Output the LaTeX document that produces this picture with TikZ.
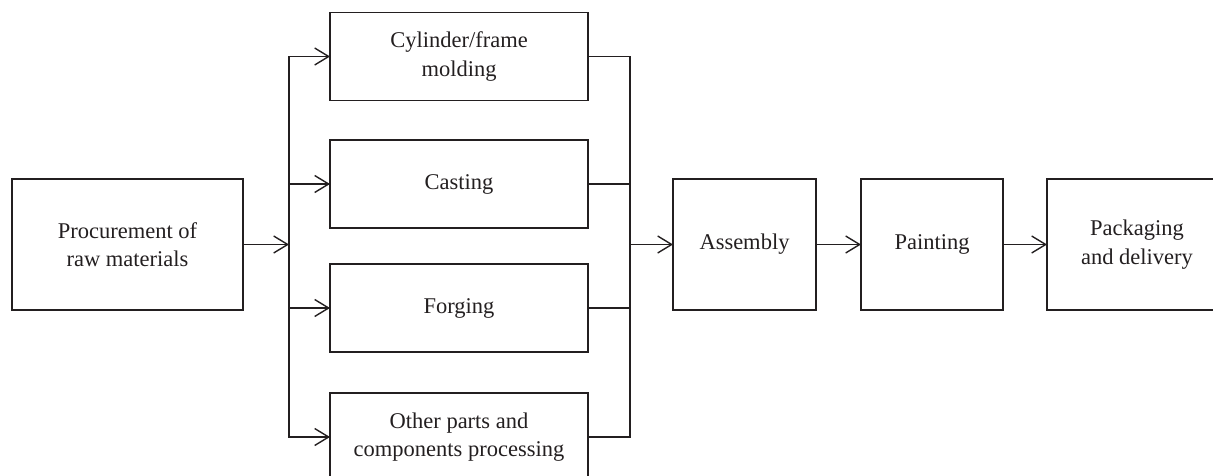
\documentclass[tikz,border=0pt]{standalone}
\usepackage{fontspec}
\setmainfont{Liberation Serif}
\usetikzlibrary{arrows.meta}
\definecolor{procink}{HTML}{231F20}
\tikzset{
  blk/.style={draw=procink, line width=1.9pt, align=center, inner sep=0pt, outer sep=0pt, text=procink},
  arr/.style={-{Straight Barb[length=14pt,width=17pt,line width=1.4pt]}, line width=1.4pt, color=procink},
  lnk/.style={line width=1.4pt, color=procink},
}

\begin{document}
\begin{tikzpicture}[x=1pt, y=-1pt, font=\fontsize{22.5}{28.5}\selectfont]
  \useasboundingbox (0,0) rectangle (1213,476);
  \node[blk, minimum width=231, minimum height=131] (proc) at (127.5,244.5) {Procurement of\\raw materials};
  \foreach \n/\y/\t in {
      cyl/56.5/{Cylinder/frame\\molding},
      cast/184/{Casting},
      forg/308/{Forging},
      other/437/{Other parts and\\components processing}}
    { \node[blk, minimum width=258, minimum height=88] (\n) at (459,\y) {\t}; }
  \node[blk, minimum width=143, minimum height=131] (asm) at (744.5,244.5) {Assembly};
  \node[blk, minimum width=142, minimum height=131] (paint) at (932,244.5) {Painting};
  \node[blk, minimum width=180, minimum height=131] (pack) at (1137,244.5) {Packaging\\and delivery};
  \coordinate (split) at (289,244.5);
  \coordinate (join) at (630,244.5);
  \draw[arr] (proc) -- (split);
  \foreach \n in {cyl,cast,forg,other}
    { \draw[arr] (split) |- (\n.west); \draw[lnk] (\n.east) -| (join); }
  \draw[arr] (join) -- (asm);
  \draw[arr] (asm) -- (paint);
  \draw[arr] (paint) -- (pack);
\end{tikzpicture}
\end{document}
